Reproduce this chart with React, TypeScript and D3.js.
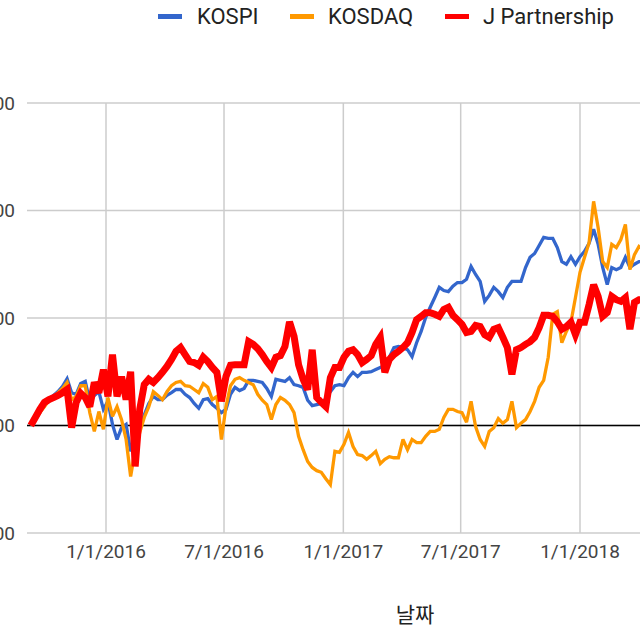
import React from 'react';
import * as d3 from 'd3';

// weekly closes, indexed to 1000 at the first week (2015-09-07)
const startDate = new Date(2015, 8, 7);

const kospi = [
  1000, 1011, 1024, 1037, 1048, 1056, 1063, 1073, 1087, 1061, 1058, 1078, 1082, 1045, 1056, 1063,
  1030, 1045, 1002, 974, 996, 1002, 952, 974, 998, 1020, 1041, 1054, 1048, 1048, 1056, 1061,
  1067, 1067, 1058, 1052, 1041, 1032, 1048, 1050, 1039, 1032, 1024, 1030, 1058, 1071, 1065, 1069,
  1084, 1084, 1082, 1080, 1069, 1054, 1086, 1084, 1082, 1089, 1076, 1074, 1071, 1047, 1037, 1039,
  1041, 1050, 1063, 1074, 1076, 1074, 1089, 1099, 1091, 1099, 1099, 1100, 1104, 1108, 1112, 1127,
  1145, 1147, 1145, 1141, 1128, 1154, 1175, 1201, 1220, 1238, 1257, 1251, 1249, 1259, 1266, 1266,
  1272, 1296, 1281, 1268, 1231, 1242, 1257, 1249, 1238, 1257, 1268, 1268, 1268, 1294, 1313, 1320,
  1335, 1350, 1348, 1348, 1331, 1305, 1300, 1314, 1300, 1314, 1324, 1339, 1365, 1337, 1294, 1262,
  1294, 1290, 1294, 1313, 1294, 1300, 1305, 1305,
];

const kosdaq = [
  1000, 1011, 1024, 1035, 1047, 1054, 1061, 1069, 1080, 1048, 1054, 1074, 1074, 1024, 989, 1026,
  993, 1052, 1017, 1035, 1011, 974, 905, 955, 987, 1015, 1035, 1063, 1056, 1048, 1063, 1074,
  1080, 1082, 1074, 1073, 1067, 1061, 1078, 1071, 1048, 1054, 974, 1035, 1074, 1086, 1089, 1084,
  1080, 1076, 1058, 1047, 1039, 1011, 1039, 1052, 1047, 1039, 1024, 980, 955, 933, 922, 916,
  913, 901, 890, 952, 950, 965, 987, 961, 946, 944, 937, 944, 952, 929, 937, 942,
  940, 940, 974, 955, 974, 968, 968, 980, 989, 989, 993, 1015, 1030, 1030, 1026, 1024,
  1006, 1045, 998, 974, 961, 989, 996, 1013, 1004, 1011, 1045, 996, 1004, 1011, 1026, 1045,
  1071, 1084, 1127, 1207, 1212, 1154, 1175, 1192, 1238, 1285, 1313, 1340, 1417, 1368, 1305, 1294,
  1337, 1331, 1346, 1374, 1290, 1318, 1333, 1327,
];

const jPartnership = [
  1000, 1015, 1030, 1043, 1048, 1052, 1056, 1061, 1067, 996, 1043, 1060, 1052, 1035, 1080, 1061,
  1104, 1054, 1132, 1054, 1091, 1048, 1100, 924, 1030, 1076, 1086, 1080, 1089, 1099, 1110, 1123,
  1138, 1145, 1132, 1119, 1117, 1112, 1127, 1119, 1108, 1099, 1045, 1091, 1112, 1113, 1113, 1113,
  1156, 1151, 1143, 1132, 1119, 1108, 1127, 1130, 1147, 1193, 1166, 1113, 1086, 1067, 1141, 1052,
  1043, 1035, 1089, 1108, 1108, 1127, 1138, 1141, 1132, 1117, 1123, 1130, 1151, 1164, 1099, 1123,
  1132, 1138, 1145, 1154, 1173, 1197, 1203, 1210, 1210, 1207, 1203, 1216, 1220, 1205, 1197, 1188,
  1173, 1175, 1186, 1184, 1169, 1164, 1179, 1182, 1164, 1145, 1095, 1141, 1145, 1151, 1156, 1164,
  1182, 1205, 1205, 1203, 1193, 1179, 1184, 1192, 1169, 1192, 1192, 1225, 1262, 1240, 1203, 1210,
  1240, 1234, 1231, 1238, 1179, 1229, 1234, 1234,
];

const yTicks = [800, 1000, 1200, 1400, 1600];
const xTickDates = [
  new Date(2016, 0, 1),
  new Date(2016, 6, 1),
  new Date(2017, 0, 1),
  new Date(2017, 6, 1),
  new Date(2018, 0, 1),
];

const seriesList = [
  { name: 'KOSPI', values: kospi, color: '#3366cc', width: 3.3 },
  { name: 'KOSDAQ', values: kosdaq, color: '#ff9900', width: 3.3 },
  { name: 'J Partnership', values: jPartnership, color: '#ff0000', width: 7 },
];

const W = 640;
const H = 640;
const plotLeft = 27;
const font = 'Roboto, Arial, sans-serif';

export default function App() {
  const dates = kospi.map((_, i) => d3.timeDay.offset(startDate, i * 7));

  const x = d3.scaleTime()
    .domain([new Date(2016, 0, 1), new Date(2018, 0, 1)])
    .range([106, 580]);

  const y = d3.scaleLinear()
    .domain([800, 1600])
    .range([533, 103]);

  const fmtDate = d3.timeFormat('%-m/%-d/%Y');
  const fmtNum = d3.format(',');

  const legendItems = [
    { x: 158, tx: 197 },
    { x: 290, tx: 328 },
    { x: 445, tx: 483 },
  ];

  return (
    <svg
      width={W}
      height={H}
      style={{ position: 'fixed', left: 0, top: 0, background: '#fff' }}
    >
      <rect width={W} height={H} fill="#fff" />

      {/* horizontal grid */}
      {yTicks.map(t => (
        <line key={'h' + t} x1={plotLeft} x2={W} y1={y(t)} y2={y(t)} stroke="#cccccc" strokeWidth={1.5} />
      ))}
      {/* vertical grid */}
      {xTickDates.map(d => (
        <line key={'v' + d.getTime()} x1={x(d)} x2={x(d)} y1={y(1600)} y2={y(800)} stroke="#cccccc" strokeWidth={1.5} />
      ))}

      {/* y labels, cut at the left edge as in the original crop */}
      {yTicks.map(t => (
        <text key={'yl' + t} x={15} y={y(t)} dy="0.35em" textAnchor="end" fontFamily={font} fontSize={19} fill="#444">
          {fmtNum(t)}
        </text>
      ))}

      {/* x labels */}
      {xTickDates.map(d => (
        <text key={'xl' + d.getTime()} x={x(d)} y={558} textAnchor="middle" fontFamily={font} fontSize={19} fill="#444">
          {fmtDate(d)}
        </text>
      ))}

      {/* baseline */}
      <line x1={plotLeft} x2={W} y1={y(1000)} y2={y(1000)} stroke="#000" strokeWidth={1.3} />

      {seriesList.map(s => {
        const line = d3.line<number>()
          .x((_, i) => x(dates[i]))
          .y(v => y(v));
        return (
          <path
            key={s.name}
            d={line(s.values) || ''}
            fill="none"
            stroke={s.color}
            strokeWidth={s.width}
            strokeLinejoin="miter"
            strokeMiterlimit={3}
          />
        );
      })}

      {/* legend */}
      {seriesList.map((s, i) => (
        <g key={'lg' + s.name}>
          <rect x={legendItems[i].x} y={14} width={24} height={5} fill={s.color} />
          <text x={legendItems[i].tx} y={24} fontFamily={font} fontSize={22} fill="#222">
            {s.name}
          </text>
        </g>
      ))}

      {/* axis title */}
      <text x={415} y={622} textAnchor="middle" fontFamily='"Noto Sans CJK KR", sans-serif' fontSize={21} fill="#222">
        날짜
      </text>
    </svg>
  );
}
